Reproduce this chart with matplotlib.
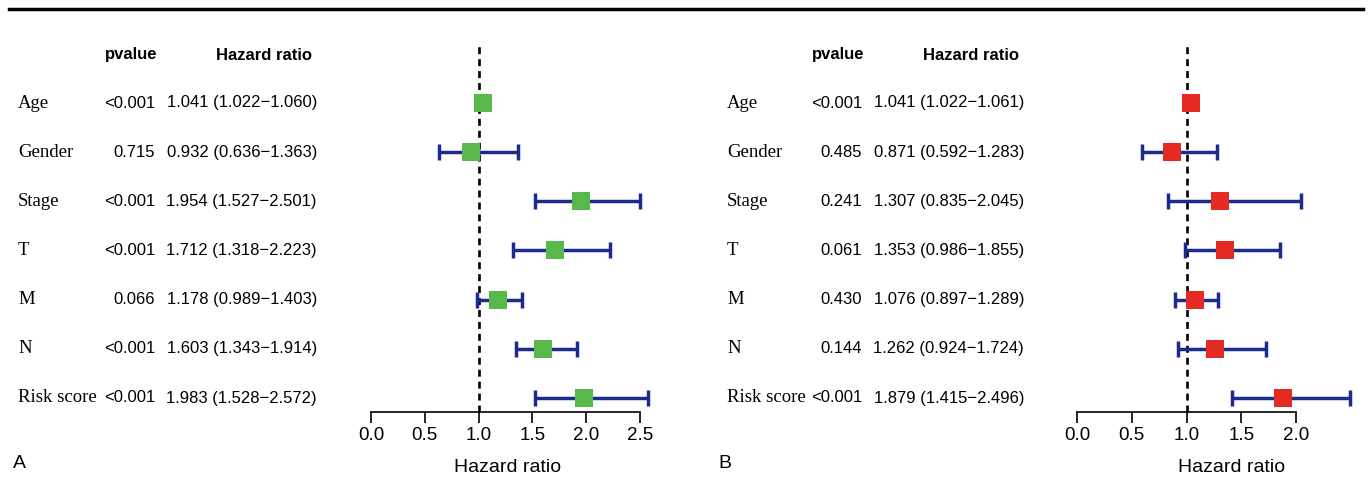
import matplotlib
matplotlib.use("Agg")
import matplotlib.pyplot as plt

# ---------------- data ----------------
variables = ["Age", "Gender", "Stage", "T", "M", "N", "Risk score"]

pval_A = ["<0.001", "0.715", "<0.001", "<0.001", "0.066", "<0.001", "<0.001"]
hr_A = [1.041, 0.932, 1.954, 1.712, 1.178, 1.603, 1.983]
low_A = [1.022, 0.636, 1.527, 1.318, 0.989, 1.343, 1.528]
high_A = [1.060, 1.363, 2.501, 2.223, 1.403, 1.914, 2.572]

pval_B = ["<0.001", "0.485", "0.241", "0.061", "0.430", "0.144", "<0.001"]
hr_B = [1.041, 0.871, 1.307, 1.353, 1.076, 1.262, 1.879]
low_B = [1.022, 0.592, 0.835, 0.986, 0.897, 0.924, 1.415]
high_B = [1.061, 1.283, 2.045, 1.855, 1.289, 1.724, 2.496]

ticks_A = [0.0, 0.5, 1.0, 1.5, 2.0, 2.5]
ticks_B = [0.0, 0.5, 1.0, 1.5, 2.0]

# ---------------- style ----------------
plt.rcParams["font.family"] = ["Liberation Sans", "DejaVu Sans"]
plt.rcParams["lines.scale_dashes"] = False

W, H = 1372, 482
fig = plt.figure(figsize=(W / 100, H / 100), dpi=100)
fig.patch.set_facecolor("white")


def fx(x):
    return x / W


def fy(y):
    return 1 - y / H


ERR_COLOR = "#1e2b8e"
ROW_TOP, ROW_BOT = 103, 398          # pixel centres of first / last row
AX_TOP, AX_BOT = 40, 412             # pixel extent of forest axes
DASH_TOP = 45

n = len(variables)
ypos = list(range(n, 0, -1))
step = (ROW_BOT - ROW_TOP) / (n - 1)


def row_pix(i):
    return ROW_TOP + i * step


def panel(label_x, pv_right, hr_right, ax_left, ax_right, xmax, ticks,
          pvals, hrs, lows, highs, color, xlab_x, letter, letter_x):
    # text table
    fig.text(fx(pv_right + 2), fy(55), "pvalue", ha="right", va="center",
             fontsize=12, fontweight="bold")
    fig.text(fx(hr_right - 5), fy(55), "Hazard ratio", ha="right", va="center",
             fontsize=12, fontweight="bold")
    for i, var in enumerate(variables):
        yy = fy(row_pix(i))
        fig.text(fx(label_x), yy, var, ha="left", va="center", fontsize=13.5,
                 family=["Liberation Serif", "DejaVu Serif"])
        fig.text(fx(pv_right), yy, pvals[i], ha="right", va="center", fontsize=12)
        fig.text(fx(hr_right), yy,
                 f"{hrs[i]:.3f} ({lows[i]:.3f}\u2212{highs[i]:.3f})",
                 ha="right", va="center", fontsize=12)

    # forest axes
    ax = fig.add_axes([fx(ax_left), fy(AX_BOT), (ax_right - ax_left) / W,
                       (AX_BOT - AX_TOP) / H])
    ax.set_xlim(0, xmax)
    y_bot = n - (AX_BOT - ROW_TOP) / step
    y_top = n + (ROW_TOP - AX_TOP) / step
    ax.set_ylim(y_bot, y_top)
    ax.patch.set_alpha(0)
    for s in ["top", "right", "left"]:
        ax.spines[s].set_visible(False)
    ax.spines["bottom"].set_linewidth(1.2)
    ax.spines["bottom"].set_bounds(ticks[0], ticks[-1])
    ax.set_yticks([])
    ax.set_xticks(ticks)
    ax.set_xticklabels([f"{t:.1f}" for t in ticks])
    ax.tick_params(axis="x", direction="out", length=8, width=1.2,
                   labelsize=13.5, pad=3)

    ax.plot([1, 1], [y_bot, n + (ROW_TOP - DASH_TOP) / step], color="black",
            lw=1.9, dashes=(5, 3.6), zorder=1, clip_on=False)

    xerr = [[h - l for h, l in zip(hrs, lows)], [hi - h for h, hi in zip(hrs, highs)]]
    ax.errorbar(hrs, ypos, xerr=xerr, fmt="none", ecolor=ERR_COLOR,
                elinewidth=2.5, capsize=6, capthick=2.5, zorder=2,
                clip_on=False)
    ax.scatter(hrs, ypos, marker="s", s=13 ** 2, color=color, zorder=3,
               linewidths=0, clip_on=False)

    fig.text(fx(xlab_x), fy(468), "Hazard ratio", ha="center", va="center",
             fontsize=14)
    fig.text(fx(letter_x), fy(463), letter, ha="left", va="center", fontsize=14)


panel(18, 155, 317, 371, 640, 2.5, ticks_A, pval_A, hr_A, low_A, high_A,
      "#58b84a", 508, "A", 13)
panel(727, 862, 1024, 1077, 1296, 2.0, ticks_B, pval_B, hr_B, low_B, high_B,
      "#e42a23", 1232, "B", 718)

# top rule
fig.add_artist(plt.Line2D([fx(9), fx(1363)], [fy(9), fy(9)], color="black",
                          lw=2.5, transform=fig.transFigure))

fig.savefig("out.png", dpi=100, facecolor="white")
